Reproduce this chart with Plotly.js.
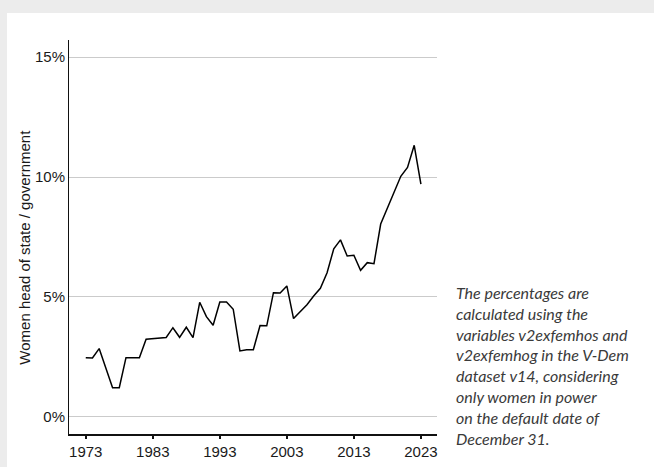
<!DOCTYPE html>
<html>
<head>
<meta charset="utf-8">
<script src="https://cdn.plot.ly/plotly-3.0.1.min.js"></script>
<style>
html,body{margin:0;padding:0;background:#ececec;width:654px;height:467px;overflow:hidden;}
#chart{position:absolute;left:7px;top:13px;width:647px;height:454px;background:#fff;}
</style>
</head>
<body>
<div id="chart"></div>
<script>
const years = [1973,1974,1975,1976,1977,1978,1979,1980,1981,1982,1983,1984,1985,1986,1987,1988,1989,1990,1991,1992,1993,1994,1995,1996,1997,1998,1999,2000,2001,2002,2003,2004,2005,2006,2007,2008,2009,2010,2011,2012,2013,2014,2015,2016,2017,2018,2019,2020,2021,2022,2023];
const sharePct = [2.47,2.46,2.85,2.05,1.22,1.22,2.47,2.47,2.47,3.24,3.26,3.31,3.31,3.72,3.32,3.74,3.31,4.78,4.18,3.82,4.79,4.79,4.49,2.75,2.80,2.80,3.81,3.80,5.18,5.17,5.46,4.10,4.38,4.68,5.04,5.36,6.01,7.01,7.38,6.71,6.74,6.11,6.43,6.39,8.04,8.69,9.35,10.03,10.40,11.32,9.70];
const yTickVals = [0,5,10,15];
const yTickText = ["0%","5%","10%","15%"];
const xTickVals = [1973,1983,1993,2003,2013,2023];
const yTitle = "Women head of state / government";
const noteLines = ["The percentages are","calculated using the","variables v2exfemhos and","v2exfemhog in the V-Dem","dataset v14, considering","only women in power","on the default date of","December 31."];

const narrow = "Liberation Sans Narrow, Liberation Sans, sans-serif";
const trace = {
  x: years, y: sharePct, type: 'scatter', mode: 'lines',
  line: {color: '#000', width: 1.5}, hoverinfo: 'skip'
};
const layout = {
  width: 647, height: 454,
  margin: {l: 62, r: 217, t: 27, b: 33},
  paper_bgcolor: '#fff', plot_bgcolor: '#fff',
  showlegend: false,
  font: {family: narrow, size: 15, color: '#1a1a1a'},
  xaxis: {
    range: [1970.5, 2025.4], tickvals: xTickVals, ticktext: xTickVals.map(String),
    showgrid: false, zeroline: false, showline: true, linecolor: '#111', linewidth: 1.5,
    ticks: 'outside', ticklen: 3, tickwidth: 2, tickcolor: '#111',
    tickfont: {family: narrow, size: 15, color: '#1a1a1a'}
  },
  yaxis: {
    range: [-0.71, 15.71], tickvals: yTickVals, ticktext: yTickText,
    showgrid: true, gridcolor: '#cbcbcb', gridwidth: 1, zeroline: false,
    showline: true, linecolor: '#111', linewidth: 1, ticks: '',
    tickfont: {family: narrow, size: 15, color: '#1a1a1a'}
  },
  annotations: [{
    xref: 'paper', yref: 'paper', x: -0.12, y: 0.475, xanchor: 'center', yanchor: 'middle',
    showarrow: false, textangle: -90, text: yTitle,
    font: {family: narrow, size: 15, color: '#1a1a1a'}
  }, {
    xref: 'paper', yref: 'paper', x: 1.047, y: 0.388, xanchor: 'left', yanchor: 'top',
    showarrow: false, align: 'left',
    text: noteLines.join('<br>'),
    font: {family: 'Lato, Open Sans, sans-serif', size: 16, color: '#3a3a3a', style: 'italic'}
  }]
};
Plotly.newPlot('chart', [trace], layout, {staticPlot: true, displayModeBar: false});
</script>
</body>
</html>
